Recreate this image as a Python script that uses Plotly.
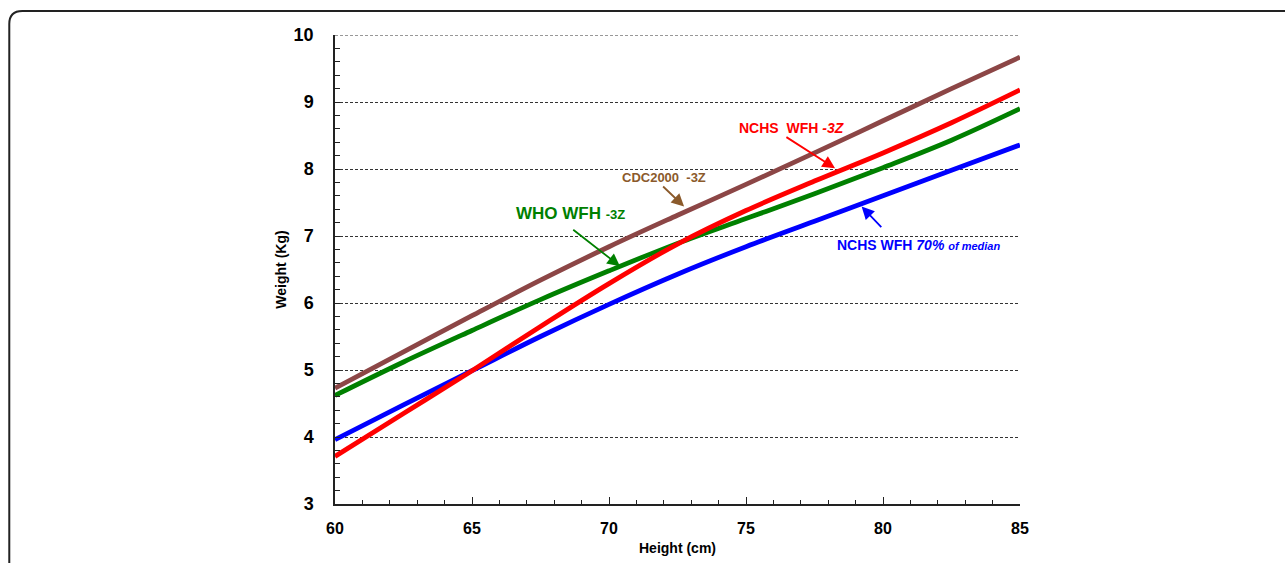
import plotly.graph_objects as go

height_cm = [60, 62.5, 65, 67.5, 70, 72.5, 75, 77.5, 80, 82.5, 85]
cdc2000_m3z = [4.73, 5.27, 5.81, 6.34, 6.84, 7.31, 7.77, 8.24, 8.72, 9.20, 9.67]
nchs_m3z = [3.71, 4.35, 4.99, 5.65, 6.29, 6.88, 7.38, 7.82, 8.24, 8.69, 9.18]
who_m3z = [4.62, 5.12, 5.59, 6.05, 6.48, 6.89, 7.26, 7.63, 8.02, 8.43, 8.90]
nchs_70pct = [3.96, 4.48, 4.99, 5.50, 5.98, 6.43, 6.84, 7.22, 7.60, 7.98, 8.36]

x_ticks = [60, 65, 70, 75, 80, 85]
y_ticks = [3, 4, 5, 6, 7, 8, 9, 10]

FONT = "Liberation Sans, Arial, sans-serif"
BROWN = "#8C4646"
RED = "#FF0000"
GREEN = "#008000"
BLUE = "#0000FF"

fig = go.Figure()
for ys, col in [(cdc2000_m3z, BROWN), (who_m3z, GREEN), (nchs_70pct, BLUE), (nchs_m3z, RED)]:
    fig.add_trace(go.Scatter(x=height_cm, y=ys, mode="lines",
                             line=dict(color=col, width=4.8, shape="spline", smoothing=1.0),
                             showlegend=False, hoverinfo="skip"))

fig.update_layout(
    width=1285, height=563,
    margin=dict(l=335, r=265, t=35, b=59),
    paper_bgcolor="white", plot_bgcolor="white",
    font=dict(family=FONT, color="black"),
    showlegend=False,
)
fig.update_xaxes(
    range=[60, 85], tickvals=x_ticks, ticktext=[str(v) for v in x_ticks],
    automargin=False,
    showgrid=False, zeroline=False, showline=True, linecolor="#222", linewidth=1.5,
    ticks="inside", ticklen=7, tickcolor="#222", tickwidth=1.2,
    minor=dict(dtick=1, ticks="inside", ticklen=4, tickcolor="#222", tickwidth=1.2),
    tickfont=dict(family=FONT, size=16, weight="bold", color="black"),
    ticklabelstandoff=9,
    title=dict(text="Height (cm)", font=dict(family=FONT, size=14, weight="bold", color="black"), standoff=7),
)
fig.update_yaxes(
    range=[3, 10], tickvals=y_ticks, ticktext=[str(v) for v in y_ticks],
    automargin=False,
    showgrid=True, gridcolor="#333", gridwidth=1, griddash="3px,2px",
    zeroline=False, showline=True, linecolor="#222", linewidth=1.5,
    ticks="inside", ticklen=5, tickcolor="#222", tickwidth=1.2,
    minor=dict(dtick=0.2, ticks="inside", ticklen=5, tickcolor="#222", tickwidth=1.2, showgrid=False),
    tickfont=dict(family=FONT, size=18, weight="bold", color="black"),
    ticklabelstandoff=16,
    title=dict(text="Weight (Kg)", font=dict(family=FONT, size=14, weight="bold", color="black"), standoff=4),
)

# top dashed gridline at the range edge
fig.add_shape(type="line", xref="paper", yref="y", x0=0, x1=1, y0=10, y1=10,
              line=dict(color="#333", width=1, dash="3px,2px"))

# rounded frame around the figure (clipped at right/bottom in the reference)
x0, y0, rx, ry = -0.4755, 1.0512, 0.019, 0.0277
fig.add_shape(type="path", xref="paper", yref="paper",
              path=f"M {x0},-0.2 L {x0},{y0-ry} Q {x0},{y0} {x0+rx},{y0} L 1.45,{y0}",
              line=dict(color="#222", width=2))

def label(x, y, text, color, size):
    fig.add_annotation(x=x, y=y, xref="x", yref="y", text=text, showarrow=False,
                       font=dict(family=FONT, size=size, color=color, weight="bold"))

def arrow(xt, yt, xh, yh, color):
    fig.add_annotation(x=xh, y=yh, ax=xt, ay=yt, xref="x", yref="y", axref="x", ayref="y",
                       text="", showarrow=True, arrowhead=2, arrowsize=1.4, arrowwidth=1.8,
                       arrowcolor=color, startstandoff=0, standoff=0)

label(72.0, 7.88, "CDC2000  -3Z", "#8B5A2B", 13)
arrow(71.92, 7.76, 72.74, 7.44, "#8B5A2B")

label(68.58, 7.34, "WHO WFH <span style='font-size:13px'>-3Z</span>", GREEN, 17)
arrow(68.64, 7.11, 70.4, 6.55, GREEN)

label(76.67, 8.61, "NCHS  WFH <i>-3Z</i>", RED, 14)
arrow(76.42, 8.49, 78.25, 8.01, RED)

label(81.31, 6.86, "NCHS WFH <i>70%</i> <i><span style='font-size:11px'>of median</span></i>", BLUE, 14)
arrow(79.99, 7.11, 79.22, 7.44, BLUE)

fig.write_html("out.html")
